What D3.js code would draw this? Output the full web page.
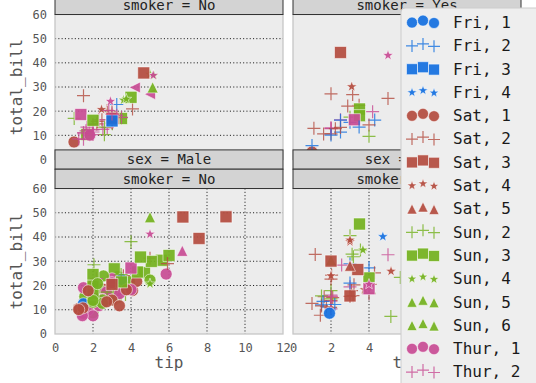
<!DOCTYPE html>
<html><head><meta charset="utf-8">
<script src="https://cdn.jsdelivr.net/npm/d3@7"></script>
<style>body{margin:0;background:#fff}svg{display:block}</style>
</head><body>
<svg id="c" width="536" height="383"></svg>
<script>
// ---------- data ----------
const days = ["Fri","Sat","Sun","Thur"];
const dayColors = ["#1470e0","#b44c40","#74b21f","#c84c94"];
const rowLabels = ["Female","Male"];
const colLabels = ["No","Yes"];
const xTicks = [0,2,4,6,8,10,12];
const yTicks = [0,10,20,30,40,50,60];
const gridTicksX = [2,4,6,8,10];
const gridTicksY = [10,20,30,40,50];
// rows: [tip, total_bill, day, size]
const femaleNo = [
[1.01,16.99,"Sun",2],[3.61,24.59,"Sun",4],[5.0,35.26,"Sun",4],[3.02,14.83,"Sun",2],[1.67,10.33,"Sun",3],
[3.5,16.97,"Sun",3],[2.75,20.29,"Sat",2],[2.23,15.77,"Sat",2],[3.0,19.65,"Sat",2],[3.0,15.06,"Sat",2],
[2.45,20.69,"Sat",4],[3.07,16.93,"Sat",3],[2.6,10.29,"Sun",2],[5.2,34.81,"Sun",4],[1.5,26.41,"Sat",2],
[2.47,16.45,"Sat",2],[3.0,17.07,"Sat",3],[2.2,14.73,"Sat",2],[1.83,10.07,"Thur",1],[5.17,34.83,"Thur",4],
[3.25,22.75,"Fri",2],[4.08,20.92,"Sat",2],[1.0,7.25,"Sat",1],[4.0,25.71,"Sun",3],[3.5,17.31,"Sun",2],
[1.5,10.65,"Thur",2],[1.8,12.43,"Thur",2],[2.92,24.08,"Thur",4],[1.68,13.42,"Thur",2],[2.52,12.48,"Thur",2],
[4.2,29.8,"Thur",6],[2.0,14.52,"Thur",2],[2.0,11.38,"Thur",2],[2.83,20.27,"Thur",2],[1.5,11.17,"Thur",2],
[2.0,12.26,"Thur",2],[3.25,18.26,"Thur",2],[1.25,8.51,"Thur",2],[2.0,10.33,"Thur",2],[2.0,14.15,"Thur",2],
[2.75,13.16,"Thur",2],[3.5,17.47,"Thur",2],[5.0,27.05,"Thur",6],[2.3,16.43,"Thur",2],[1.5,8.35,"Thur",2],
[1.36,18.64,"Thur",3],[1.63,11.87,"Thur",2],[5.14,29.85,"Sun",5],[3.75,25.0,"Sun",4],[2.61,13.39,"Sun",2],
[2.0,16.21,"Sun",3],[3.0,15.98,"Fri",3],[4.67,35.83,"Sat",3],[3.0,18.78,"Thur",2]
];
const femaleYes = [
[1.0,3.07,"Sat",1],[3.14,26.86,"Sat",2],[5.0,25.28,"Sat",2],[1.0,5.75,"Fri",2],[4.3,16.32,"Fri",2],
[2.5,11.35,"Fri",2],[3.0,15.38,"Fri",2],[2.5,44.3,"Sat",3],[3.48,22.42,"Sat",2],[4.0,14.31,"Sat",2],
[3.0,17.51,"Sun",2],[1.61,10.59,"Sat",2],[2.0,10.63,"Sat",2],[4.0,9.6,"Sun",2],[3.5,20.9,"Sun",3],
[3.5,18.15,"Sun",3],[4.19,19.81,"Thur",2],[5.0,43.11,"Thur",4],[2.0,13.0,"Thur",2],[2.01,12.74,"Thur",2],
[2.0,13.0,"Thur",2],[2.5,16.4,"Thur",2],[3.23,16.47,"Thur",3],[2.23,12.76,"Sat",2],[2.5,13.27,"Sat",2],
[6.5,28.17,"Sat",3],[1.1,12.9,"Sat",2],[3.09,30.14,"Sat",4],[3.48,13.42,"Fri",2],[2.5,16.27,"Fri",2],
[2.0,10.09,"Fri",2],[2.88,22.12,"Sat",2],[2.0,27.18,"Sat",2]
];
const maleNo = [
[1.66,10.34,"Sun",3],[3.5,21.01,"Sun",3],[3.31,23.68,"Sun",2],[4.71,25.29,"Sun",4],[2.0,8.77,"Sun",2],
[3.12,26.88,"Sun",4],[1.96,15.04,"Sun",2],[3.23,14.78,"Sun",2],[1.71,10.27,"Sun",2],[1.57,15.42,"Sun",2],
[3.0,18.43,"Sun",4],[3.92,21.58,"Sun",2],[3.71,16.29,"Sun",3],[3.35,20.65,"Sat",3],[4.08,17.92,"Sat",2],
[7.58,39.42,"Sat",4],[3.18,19.82,"Sat",2],[2.34,17.81,"Sat",4],[2.0,13.37,"Sat",2],[2.0,12.69,"Sat",2],
[4.3,21.7,"Sat",2],[1.45,9.55,"Sat",2],[2.5,18.35,"Sat",4],[3.27,17.78,"Sat",2],[3.6,24.06,"Sat",3],
[2.0,16.31,"Sat",3],[2.31,18.69,"Sat",3],[5.0,31.27,"Sat",3],[2.24,16.04,"Sat",3],[2.54,17.46,"Sun",2],
[3.06,13.94,"Sun",2],[1.32,9.68,"Sun",2],[5.6,30.4,"Sun",4],[3.0,18.29,"Sun",2],[5.0,22.23,"Sun",2],
[6.0,32.4,"Sun",4],[2.05,28.55,"Sun",3],[3.0,18.04,"Sun",2],[2.5,12.54,"Sun",2],[1.56,9.94,"Sun",2],
[4.34,25.56,"Sun",4],[3.51,19.49,"Sun",2],[6.73,48.27,"Sat",4],[2.64,17.59,"Sat",3],[3.15,20.08,"Sat",3],
[2.01,20.23,"Sat",2],[1.97,12.02,"Sat",2],[1.25,10.51,"Sat",2],[4.0,27.2,"Thur",4],[3.0,22.76,"Thur",2],
[2.71,17.29,"Thur",2],[3.4,16.66,"Thur",2],[2.03,15.98,"Thur",2],[2.0,13.03,"Thur",2],[4.0,18.28,"Thur",2],
[5.85,24.71,"Thur",2],[3.0,21.16,"Thur",2],[3.5,22.49,"Fri",2],[1.5,12.46,"Fri",2],[3.76,18.24,"Sat",2],
[3.0,14.0,"Sat",2],[4.0,38.07,"Sun",3],[2.55,23.95,"Sun",2],[5.07,29.93,"Sun",4],[2.31,11.69,"Thur",2],
[2.5,14.26,"Thur",2],[2.0,15.95,"Thur",2],[1.48,8.52,"Thur",2],[2.18,22.82,"Thur",3],[1.5,19.08,"Thur",2],
[6.7,34.3,"Thur",6],[5.0,41.19,"Thur",5],[1.73,9.78,"Thur",2],[2.0,7.51,"Thur",2],[2.5,14.07,"Sun",2],
[2.0,13.13,"Sun",2],[2.74,17.26,"Sun",3],[2.0,24.55,"Sun",4],[2.0,19.77,"Sun",4],[5.0,48.17,"Sun",6],
[2.0,16.49,"Sun",4],[3.5,21.5,"Sun",4],[2.5,12.66,"Sun",2],[2.0,13.81,"Sun",2],[3.48,24.52,"Sun",3],
[2.24,20.76,"Sun",2],[4.5,31.71,"Sun",4],[5.0,20.69,"Sun",5],[1.44,7.56,"Thur",2],[9.0,48.33,"Sat",4],
[3.0,20.45,"Sat",4],[2.72,13.28,"Sat",2],[3.39,11.61,"Sat",2],[1.47,10.77,"Sat",2],[1.25,10.07,"Sat",2],
[5.92,29.03,"Sat",3],[1.75,17.82,"Sat",2]
];
const maleYes = [
[3.0,38.01,"Sat",4],[1.76,11.24,"Sat",2],[3.21,20.29,"Sat",2],[2.0,13.81,"Sat",2],[1.98,11.02,"Sat",2],
[3.76,18.29,"Sat",4],[2.09,15.01,"Sat",2],[3.08,17.92,"Sat",2],[3.0,19.44,"Thur",2],[5.0,32.68,"Thur",2],
[3.0,28.97,"Fri",2],[4.73,40.17,"Fri",4],[4.0,27.28,"Fri",2],[1.5,12.03,"Fri",2],[3.0,21.01,"Fri",2],
[1.64,15.36,"Sat",2],[4.06,20.49,"Sat",2],[4.29,25.21,"Sat",2],[2.0,16.0,"Thur",2],[10.0,50.81,"Sat",3],
[3.16,15.81,"Sat",2],[5.15,7.25,"Sun",2],[3.18,31.85,"Sun",2],[4.0,16.82,"Sun",2],[3.11,32.9,"Sun",2],
[2.0,17.89,"Sun",2],[2.0,14.48,"Sun",2],[3.55,34.63,"Sun",2],[3.68,34.65,"Sun",4],[5.65,23.33,"Sun",2],
[3.5,45.35,"Sun",3],[6.5,23.17,"Sun",4],[3.0,40.55,"Sun",2],[2.0,30.46,"Sun",5],[4.0,23.1,"Sun",3],
[1.5,15.69,"Sun",2],[2.56,28.44,"Thur",2],[2.02,15.48,"Thur",2],[4.0,16.58,"Thur",2],[2.0,10.34,"Thur",2],
[2.0,13.51,"Thur",2],[4.0,18.71,"Thur",3],[4.0,20.53,"Thur",4],[3.41,26.59,"Sat",3],[3.0,38.73,"Sat",4],
[2.03,24.27,"Sat",2],[2.0,30.06,"Sat",3],[5.16,25.89,"Sat",4],[3.0,28.15,"Sat",5],[1.5,11.59,"Sat",2],
[1.44,7.74,"Sat",2],[2.2,12.16,"Fri",2],[1.92,8.58,"Fri",1],[1.58,13.42,"Fri",2],[2.0,24.01,"Sat",4],
[3.0,15.69,"Sat",3],[3.0,15.53,"Sat",2],[1.0,12.6,"Sat",2],[1.17,32.83,"Sat",2],[2.0,22.67,"Sat",2]
];
const legendEntries = [
["Fri",1],["Fri",2],["Fri",3],["Fri",4],["Sat",1],["Sat",2],["Sat",3],["Sat",4],["Sat",5],
["Sun",2],["Sun",3],["Sun",4],["Sun",5],["Sun",6],["Thur",1],["Thur",2],["Thur",3],["Thur",4],["Thur",5],["Thur",6]
];
const legendShapes = {1:"circle",2:"plus",3:"square",4:"star",5:"triangle",6:"triangle"};

// ---------- layout ----------
const FONT = "'DejaVu Sans Mono', monospace";
const panelX = [[55,283],[293,521]];
const panelY = [[14.5,159.5],[188.5,334]];
const showGrid = [[{h:true,v:false},{h:false,v:false}],[{h:true,v:true},{h:false,v:true}]];
const facets = [[femaleNo,femaleYes],[maleNo,maleYes]];
const shapeCycle = ["circle","plus","square","star","triangle","triangleLeft"];
const color = d3.scaleOrdinal().domain(days).range(dayColors);

function markerPath(shape, s){
  const p = d3.path(), h = s/2;
  if(shape==="circle"){ p.arc(0,0,h,0,2*Math.PI); p.closePath(); }
  else if(shape==="square"){ p.rect(-h,-h,s,s); }
  else if(shape==="triangle"){ const r=h*0.92; p.moveTo(0,-r); p.lineTo(r,r); p.lineTo(-r,r); p.closePath(); }
  else if(shape==="triangleLeft"){ const r=h*0.92; p.moveTo(-r,0); p.lineTo(r,-r); p.lineTo(r,r); p.closePath(); }
  else if(shape==="plus"){ p.moveTo(-h,0); p.lineTo(h,0); p.moveTo(0,-h); p.lineTo(0,h); }
  else if(shape==="star"){
    const R=h*0.95, r=R*0.4;
    for(let i=0;i<10;i++){
      const a = -Math.PI/2 + i*Math.PI/5, rr = i%2?r:R;
      const px = rr*Math.cos(a), py = rr*Math.sin(a);
      if(i===0) p.moveTo(px,py); else p.lineTo(px,py);
    }
    p.closePath();
  }
  return p.toString();
}
function styleMarker(sel, shapeFn, colFn){
  sel.attr("fill", d=> shapeFn(d)==="plus" ? "none" : colFn(d))
     .attr("fill-opacity", 0.93)
     .attr("stroke", d=> shapeFn(d)==="plus" ? colFn(d) : "#ffffff")
     .attr("stroke-opacity", d=> shapeFn(d)==="plus" ? 0.8 : 0.55)
     .attr("stroke-width", d=> shapeFn(d)==="plus" ? 1.2 : 1);
}

const svg = d3.select("#c");
const defs = svg.append("defs");

function drawPanel(r,c){
  const [x0,x1] = panelX[c], [y0,y1] = panelY[r];
  const x = d3.scaleLinear().domain([0,12]).range([x0,x1]);
  const y = d3.scaleLinear().domain([0,60]).range([y1,y0]);
  const g = svg.append("g");
  g.append("rect").attr("x",x0).attr("y",y0).attr("width",x1-x0).attr("height",y1-y0)
    .attr("fill","#ececec");
  const gr = showGrid[r][c];
  if(gr.h) g.selectAll("line.gh").data(gridTicksY).join("line")
      .attr("x1",x0).attr("x2",x1).attr("y1",d=>y(d)).attr("y2",d=>y(d))
      .attr("stroke","#222").attr("stroke-width",1).attr("stroke-dasharray","1.1,2.2");
  if(gr.v) g.selectAll("line.gv").data(gridTicksX).join("line")
      .attr("y1",y0).attr("y2",y1).attr("x1",d=>x(d)).attr("x2",d=>x(d))
      .attr("stroke","#222").attr("stroke-width",1).attr("stroke-dasharray","1.1,2.2");
  const cid = "clip"+r+c;
  defs.append("clipPath").attr("id",cid).append("rect")
    .attr("x",x0).attr("y",y0).attr("width",x1-x0).attr("height",y1-y0);
  const rows = facets[r][c];
  const sizesPresent = Array.from(new Set(rows.map(d=>d[3]))).sort((a,b)=>a-b);
  const shapeOf = d => shapeCycle[sizesPresent.indexOf(d[3])];
  const pts = g.append("g").attr("clip-path",`url(#${cid})`)
    .selectAll("path").data(rows).join("path")
    .attr("transform", d=>`translate(${x(d[0])},${y(d[1])})`)
    .attr("d", d=> markerPath(shapeOf(d), shapeOf(d)==="plus"?13:12));
  styleMarker(pts, shapeOf, d=>color(d[2]));
  g.append("rect").attr("x",x0).attr("y",y0).attr("width",x1-x0).attr("height",y1-y0)
    .attr("fill","none").attr("stroke","#c6c6c6").attr("stroke-width",1.3);
  // axes (labels only)
  if(c===0){
    const ax = svg.append("g").attr("transform",`translate(${x0},0)`)
      .call(d3.axisLeft(y).tickValues(yTicks).tickSize(0).tickPadding(8).tickFormat(d3.format("d")));
    ax.select(".domain").remove();
    ax.selectAll("text").attr("font-family",FONT).attr("font-size",12).attr("fill","#555");
    svg.append("text").attr("transform",`translate(16,${(y0+y1)/2}) rotate(-90)`)
      .attr("text-anchor","middle").attr("dy","0.35em")
      .attr("font-family",FONT).attr("font-size",16).attr("fill","#555").text("total_bill");
  }
  if(r===1){
    const ax = svg.append("g").attr("transform",`translate(0,${y1})`)
      .call(d3.axisBottom(x).tickValues(xTicks).tickSize(0).tickPadding(9).tickFormat(d3.format("d")));
    ax.select(".domain").remove();
    ax.selectAll("text").attr("font-family",FONT).attr("font-size",12).attr("fill","#555");
    svg.append("text").attr("x",(x0+x1)/2).attr("y",368).attr("text-anchor","middle")
      .attr("font-family",FONT).attr("font-size",16).attr("fill","#555").text("tip");
  }
}
function drawStrips(r,c){
  const [x0,x1] = panelX[c], yTop = panelY[r][0];
  const sh = 19.3;
  const labels = ["sex = "+rowLabels[r], "smoker = "+colLabels[c]];
  labels.forEach((t,i)=>{
    const sy = yTop - sh*(2-i);
    svg.append("rect").attr("x",x0).attr("y",sy).attr("width",x1-x0).attr("height",sh)
      .attr("fill","#d3d3d3").attr("stroke","#333").attr("stroke-width",1);
    svg.append("text").attr("x",(x0+x1)/2).attr("y",sy+sh/2).attr("dy","0.35em")
      .attr("text-anchor","middle").attr("font-family",FONT).attr("font-size",14)
      .attr("fill","#222").text(t);
  });
}
// top row
drawPanel(0,0); drawPanel(0,1);
drawStrips(0,0); drawStrips(0,1);
// bottom row
drawPanel(1,0); drawPanel(1,1);
drawStrips(1,0); drawStrips(1,1);

// ---------- legend ----------
const lg = svg.append("g");
lg.append("rect").attr("x",401).attr("y",8).attr("width",160).attr("height",500).attr("rx",4)
  .attr("fill","#eeeeee").attr("stroke","#cccccc").attr("stroke-width",1);
const rowY = d3.scaleLinear().domain([0,1]).range([22.3,45.6]);
const offs = [[412,0.3],[423,-1.7],[434,0.7]];
legendEntries.forEach((e,i)=>{
  const cy = rowY(i);
  const shp = legendShapes[e[1]];
  offs.forEach(o=>{
    const m = lg.append("path").datum(e)
      .attr("transform",`translate(${o[0]},${cy+o[1]})`)
      .attr("d", markerPath(shp, shp==="plus"?12:11));
    styleMarker(m, ()=>shp, d=>color(d[0]));
  });
  lg.append("text").attr("x",453).attr("y",cy).attr("dy","0.35em")
    .attr("font-family",FONT).attr("font-size",16).attr("fill","#1a1a1a")
    .text(e[0]+", "+e[1]);
});
</script>
</body></html>
